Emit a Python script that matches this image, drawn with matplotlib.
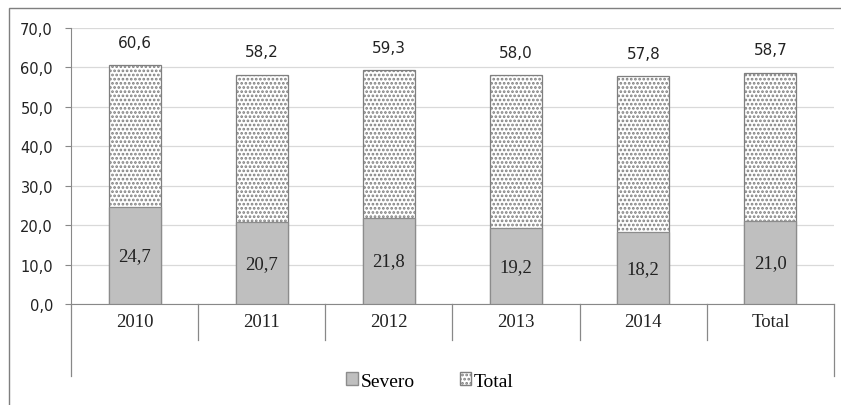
import matplotlib
matplotlib.use("Agg")
import matplotlib.pyplot as plt
from matplotlib.patches import Rectangle, Patch
from matplotlib.lines import Line2D
import numpy as np

categories = ["2010", "2011", "2012", "2013", "2014", "Total"]
severo = [24.7, 20.7, 21.8, 19.2, 18.2, 21.0]
total = [60.6, 58.2, 59.3, 58.0, 57.8, 58.7]
yticks = [0, 10, 20, 30, 40, 50, 60, 70]

plt.rcParams['hatch.linewidth'] = 1.3
plt.rcParams['hatch.color'] = '#333333'

W, H = 841, 406
fig = plt.figure(figsize=(W/100, H/100), dpi=100)
ax = fig.add_axes([71/W, 1-305/H, (834-71)/W, (305-29)/H])

x = np.arange(len(categories))
bw = 0.41
ax.bar(x, total, width=bw, color='white', edgecolor='#7f7f7f', hatch='....',
       linewidth=0.9, zorder=2)
ax.bar(x, severo, width=bw, color='#bfbfbf', edgecolor='#8c8c8c',
       linewidth=0.9, zorder=3)

def fmt(v):
    return f"{v:.1f}".replace('.', ',')

for xi, t, s in zip(x, total, severo):
    ax.annotate(fmt(t), (xi, t), xytext=(0, 11), textcoords='offset points',
                ha='center', va='bottom', fontsize=11, family='DejaVu Sans',
                color='#222222')
    ax.text(xi, s/2, fmt(s), ha='center', va='center', fontsize=13.5,
            family='Liberation Serif', color='#222222', zorder=4)

ax.set_xlim(-0.5, len(categories)-0.5)
ax.set_ylim(0, 70)
ax.set_yticks(yticks)
ax.set_yticklabels([fmt(v) for v in yticks], fontsize=10.5, family='DejaVu Sans',
                   color='#222222')
ax.tick_params(axis='y', length=4, color='#888888', pad=9)
ax.set_xticks([])
ax.grid(axis='y', color='#d9d9d9', linewidth=0.9, zorder=0)
ax.set_axisbelow(True)
for sp in ['top', 'right']:
    ax.spines[sp].set_visible(False)
ax.spines['left'].set_color('#888888')
ax.spines['bottom'].set_color('#888888')
ax.spines['left'].set_bounds(0, 70)

trans = ax.get_xaxis_transform()
# separators
for i in range(1, len(categories)):
    ax.add_line(Line2D([i-0.5, i-0.5], [0, -0.13], transform=trans,
                       color='#888888', linewidth=0.9, clip_on=False))
for xe in [-0.5, len(categories)-0.5]:
    ax.add_line(Line2D([xe, xe], [0, -0.261], transform=trans,
                       color='#888888', linewidth=0.9, clip_on=False))
for xi, c in zip(x, categories):
    ax.text(xi, -0.065, c, transform=trans, ha='center', va='center',
            fontsize=13.5, family='Liberation Serif', color='#222222')

# outer frame
fig.add_artist(Rectangle((9/W, -0.1), 2, 1-9/H+0.1, transform=fig.transFigure,
                         fill=False, edgecolor='#7f7f7f', linewidth=1.0))

handles = [Patch(facecolor='#bfbfbf', edgecolor='#8c8c8c', label='Severo'),
           Patch(facecolor='white', edgecolor='#7f7f7f', hatch='....', label='Total')]
fig.legend(handles=handles, loc='center', bbox_to_anchor=(430/W, 1-382/H),
           ncol=2, frameon=False, prop={'family': 'Liberation Serif', 'size': 14},
           handlelength=0.6, handleheight=0.6, handletextpad=0.15, columnspacing=2.3)

fig.savefig('out.png', dpi=100)
